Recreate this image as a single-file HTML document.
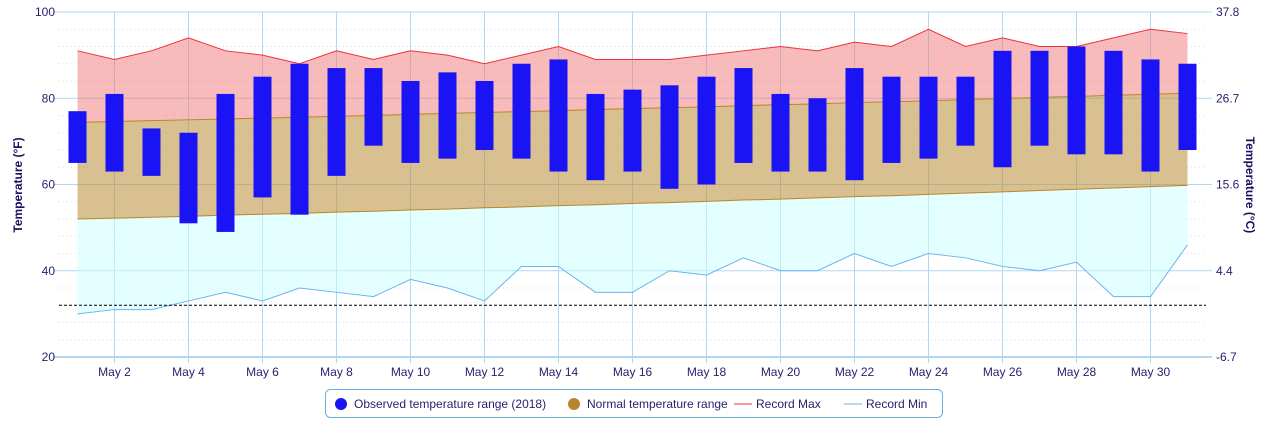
<!DOCTYPE html>
<html><head><meta charset="utf-8"><style>
body{margin:0;background:#fff;font-family:"Liberation Sans",sans-serif}
svg text{font-family:"Liberation Sans",sans-serif}
</style></head><body>
<svg id="c" width="1274" height="422"></svg>
<script>
const days=[1,2,3,4,5,6,7,8,9,10,11,12,13,14,15,16,17,18,19,20,21,22,23,24,25,26,27,28,29,30,31];
const obsHigh=[77,81,73,72,81,85,88,87,87,84,86,84,88,89,81,82,83,85,87,81,80,87,85,85,85,91,91,92,91,89,88];
const obsLow=[65,63,62,51,49,57,53,62,69,65,66,68,66,63,61,63,59,60,65,63,63,61,65,66,69,64,69,67,67,63,68];
const normHigh=[74.4,74.6,74.8,75.0,75.2,75.4,75.6,75.8,76.0,76.3,76.5,76.7,76.9,77.1,77.4,77.6,77.8,78.0,78.3,78.5,78.7,79.0,79.2,79.4,79.7,79.9,80.2,80.4,80.7,80.9,81.2];
const normLow=[52.0,52.2,52.4,52.6,52.9,53.1,53.3,53.6,53.8,54.1,54.3,54.6,54.8,55.1,55.3,55.6,55.8,56.1,56.4,56.6,56.9,57.2,57.4,57.7,58.0,58.3,58.6,58.9,59.2,59.5,59.8];
const recMax=[91,89,91,94,91,90,88,91,89,91,90,88,90,92,89,89,89,90,91,92,91,93,92,96,92,94,92,92,94,96,95];
const recMin=[30,31,31,33,35,33,36,35,34,38,36,33,41,41,35,35,40,39,43,40,40,44,41,44,43,41,40,42,34,34,46];
const yTicks=[20,40,60,80,100];
const cTicks=["-6.7","4.4","15.6","26.7","37.8"];
const xTickDays=[2,4,6,8,10,12,14,16,18,20,22,24,26,28,30];
const freezing=32;
const L=59,R=1206,T=12,B=357;
const X=d=>L+(d-0.5)/31*(R-L);
const Y=v=>B-(v-20)/80*(B-T);
const s=document.getElementById('c');const NS='http://www.w3.org/2000/svg';
function el(t,a,txt){const e=document.createElementNS(NS,t);for(const k in a)e.setAttribute(k,a[k]);if(txt!=null)e.textContent=txt;s.appendChild(e);return e;}
for(let v=20;v<=100;v+=4){if(v%20)
{const e=el('line',{x1:L,x2:R,y1:Y(v),y2:Y(v),stroke:'#ddd','stroke-dasharray':'1,3'});

}}
yTicks.forEach((v,i)=>{const g=el('line',{x1:L-6,x2:R+6,y1:Y(v),y2:Y(v),stroke:v==20?'#6aaedc':'#b0d8f0'});


const t=el('text',{x:L-4,y:Y(v)+4,'text-anchor':'end','font-size':12,fill:'#2a1d6a'},v);


const c=el('text',{x:R+10,y:Y(v)+4,'font-size':12,fill:'#2a1d6a'},cTicks[i]);

});
xTickDays.forEach(d=>{const g=el('line',{x1:X(d),x2:X(d),y1:T,y2:B+6,stroke:'#b0d8f0'});


const t=el('text',{x:X(d),y:376,'text-anchor':'middle','font-size':12,fill:'#2a1d6a'},'May '+d);

});
function area(top,bot,fill,name){let p=days.map((d,i)=>X(d)+','+Y(top[i])).join(' ')+' '+days.slice().reverse().map((d,j)=>{const i=days.length-1-j;return X(d)+','+Y(bot[i]);}).join(' ');
const e=el('polygon',{points:p,fill:fill});

}
function line(arr,col,name){const e=el('polyline',{points:days.map((d,i)=>X(d)+','+Y(arr[i])).join(' '),fill:'none',stroke:col,'stroke-width':1});

}
area(recMax,normHigh,'rgba(240,120,120,0.5)','record-max-area');
area(normHigh,normLow,'rgba(190,150,70,0.6)','normal-range-area');
area(normLow,recMin,'rgba(200,255,255,0.5)','record-min-area');
line(recMax,'#f0303a','record-max-line');
line(normHigh,'#b8862a','normal-high-line');
line(normLow,'#b8862a','normal-low-line');
line(recMin,'#6ab4f0','record-min-line');
const fl=el('line',{x1:L,x2:R,y1:Y(freezing),y2:Y(freezing),stroke:'#000',"stroke-dasharray":'3,2'});


days.forEach((d,i)=>{const b=el('rect',{x:X(d)-9,y:Y(obsHigh[i]),width:18,height:Y(obsLow[i])-Y(obsHigh[i]),fill:'#1a14f5'});

});
const yt=el('text',{transform:'translate(22,185) rotate(-90)','text-anchor':'middle','font-size':12,'font-weight':'bold',fill:'#1a1060'},'Temperature (°F)');

const y2=el('text',{transform:'translate(1246,185) rotate(90)','text-anchor':'middle','font-size':12,'font-weight':'bold',fill:'#1a1060'},'Temperature (°C)');

const lg=el('rect',{x:325.5,y:389.5,width:617,height:28,rx:5,fill:'#fff',stroke:'#6aaedc'});

const items=[['Observed temperature range (2018)','circle','#1a14f5',341],['Normal temperature range','circle','#b8862a',574],['Record Max','line','#f0303a',743],['Record Min','line','#6ab4f0',853]];
items.forEach(it=>{if(it[1]=='circle'){const c=el('circle',{cx:it[3],cy:404,r:6,fill:it[2]});}
else{const c=el('line',{x1:it[3]-9,x2:it[3]+9,y1:404,y2:404,stroke:it[2]});}
const t=el('text',{x:it[3]+13,y:408,'font-size':12,fill:'#2a1d6a'},it[0]);

});
</script></body></html>
